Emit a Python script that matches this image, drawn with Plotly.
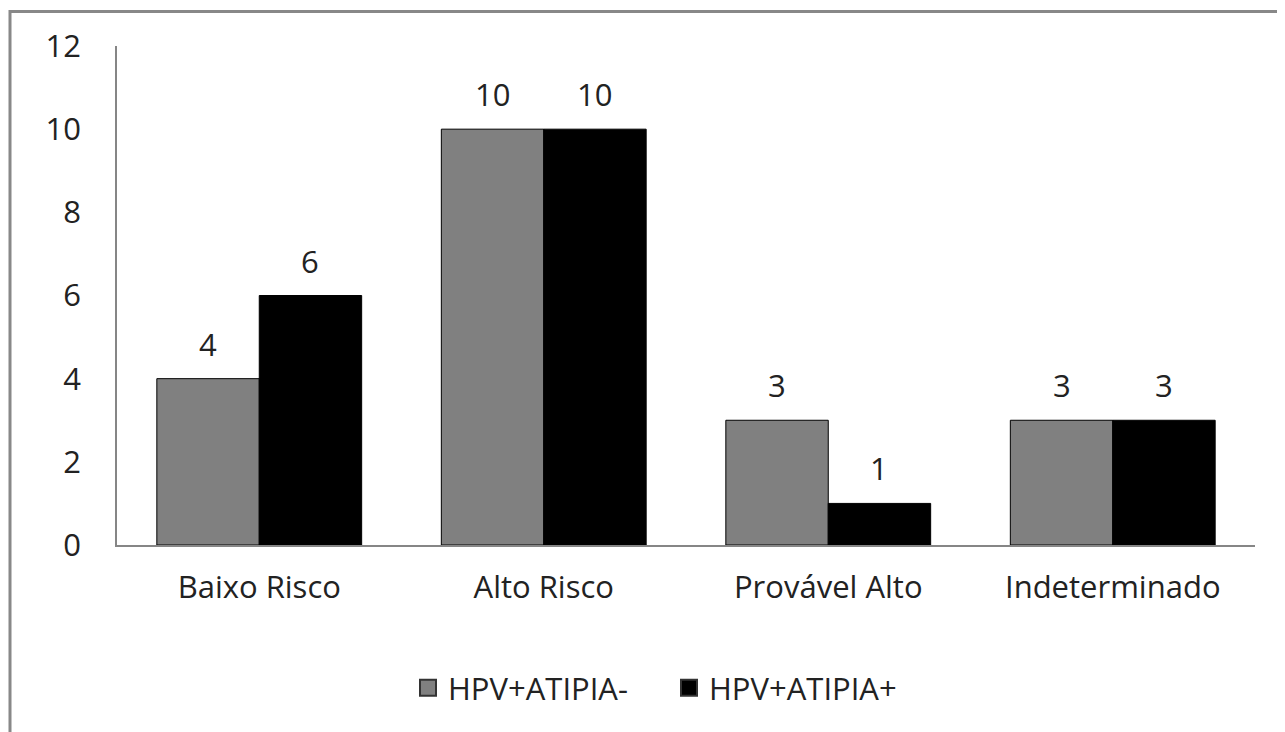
import plotly.graph_objects as go

categories = ["Baixo Risco", "Alto Risco", "Provável Alto", "Indeterminado"]
series_neg = [4, 10, 3, 3]
series_pos = [6, 10, 1, 3]
name_neg = "HPV+ATIPIA-"
name_pos = "HPV+ATIPIA+"
y_ticks = [0, 2, 4, 6, 8, 10, 12]

OFF = 8  # page body margin
W, H = 1285 - OFF, 732 - OFF
L, R, T, B = 117 - OFF, 1255 - OFF, 46 - OFF, 545 - OFF

def px(X):
    return (X - OFF - L) / (R - L)

def py(Y):
    return (B - (Y - OFF)) / (B - T)

FONT = "Open Sans"
TXT = "#222222"
FS = 31
BARGAP = 0.28
half_bar = (R - L) / len(categories) * (1 - BARGAP) / 4
COL_NEG, COL_POS = "#808080", "#000000"

fig = go.Figure()
for name, vals, col in ((name_neg, series_neg, COL_NEG), (name_pos, series_pos, COL_POS)):
    fig.add_trace(go.Bar(
        x=categories, y=vals, name=name, showlegend=False, legendgroup=name,
        marker=dict(color=col, line=dict(color="#000000", width=1)),
    ))
for name, col in ((name_neg, COL_NEG), (name_pos, COL_POS)):
    fig.add_trace(go.Scatter(
        x=[None], y=[None], mode="markers", name=name, legendgroup=name,
        marker=dict(symbol="square", size=16, color=col, line=dict(color="#333333", width=2)),
    ))

annotations = []
for vals, sign in ((series_neg, -1), (series_pos, 1)):
    for c, v in zip(categories, vals):
        annotations.append(dict(
            x=c, y=v, xref="x", yref="y", text=str(v), showarrow=False,
            xanchor="center", yanchor="middle", xshift=sign * half_bar, yshift=35,
            font=dict(family=FONT, size=FS, color=TXT),
        ))

fig.update_layout(
    width=W, height=H,
    margin=dict(l=L, r=W - R, t=T, b=H - B, pad=0),
    paper_bgcolor="white", plot_bgcolor="white",
    barmode="group", bargap=BARGAP, bargroupgap=0,
    font=dict(family=FONT, size=FS, color=TXT),
    showlegend=True,
    legend=dict(orientation="h", x=px(669), xanchor="center", y=py(688), yanchor="middle",
                font=dict(family=FONT, size=FS, color=TXT), itemsizing="trace",
                entrywidth=216, entrywidthmode="pixels",
                bgcolor="rgba(0,0,0,0)"),
    xaxis=dict(showline=True, linecolor="#868686", linewidth=1.5, showgrid=False,
               ticks="", tickfont=dict(family=FONT, size=FS, color=TXT), ticklabelstandoff=14),
    yaxis=dict(range=[0, 12], tickvals=y_ticks, showline=True, linecolor="#868686", linewidth=1.5,
               showgrid=False, zeroline=False, ticks="",
               tickfont=dict(family=FONT, size=FS, color=TXT), ticklabelstandoff=28),
    annotations=annotations,
    shapes=[
        dict(type="line", xref="paper", yref="paper", x0=px(9), x1=px(1300), y0=py(11.5), y1=py(11.5),
             line=dict(color="#888888", width=3)),
        dict(type="line", xref="paper", yref="paper", x0=px(10), x1=px(10), y0=py(10), y1=py(760),
             line=dict(color="#888888", width=3)),
    ],
)

fig.write_html("out.html")
